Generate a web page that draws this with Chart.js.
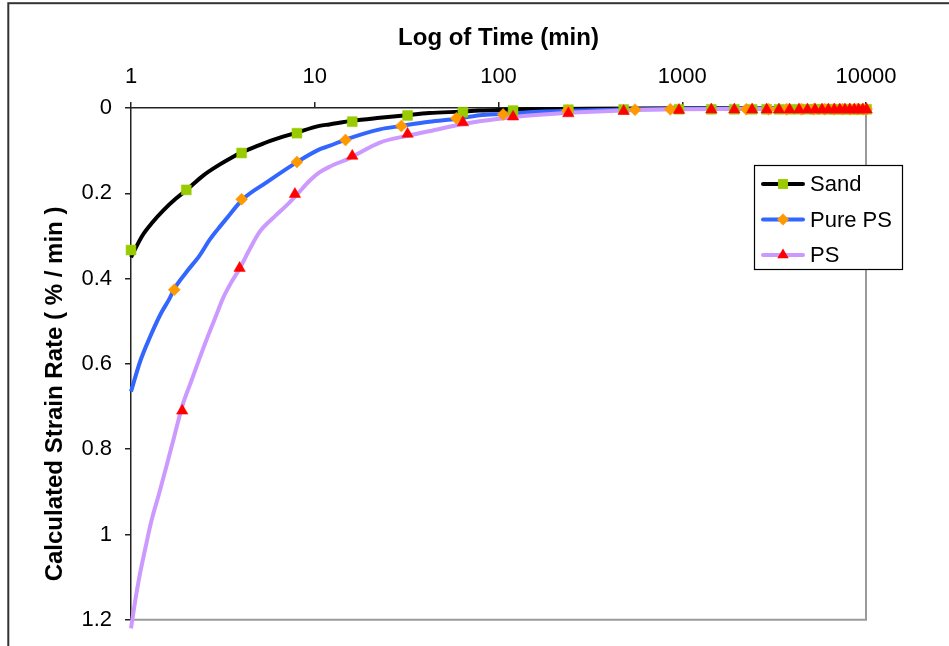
<!DOCTYPE html>
<html>
<head>
<meta charset="utf-8">
<script src="https://cdn.jsdelivr.net/npm/chart.js@4/dist/chart.umd.min.js"></script>
<style>
  html, body { margin: 0; padding: 0; background: #ffffff; }
  #wrap { width: 949px; height: 646px; position: relative; }
  canvas { display: block; }
</style>
</head>
<body>
<div id="wrap"><canvas id="c" width="949" height="646"></canvas></div>
<script>
// ---------- Data ----------
const xTicks = [1, 10, 100, 1000, 10000];
const yTicks = [0, 0.2, 0.4, 0.6, 0.8, 1, 1.2];
const yTickLabels = ['0', '0.2', '0.4', '0.6', '0.8', '1', '1.2'];

const seriesNames = ['Sand', 'Pure PS', 'PS'];
const xTitle = 'Log of Time (min)';
const yTitle = 'Calculated Strain Rate ( % / min )';

// Continuous curves
const sandCurveTime = [1, 1.15, 1.31, 1.5, 1.75, 2, 2.46, 3, 3.5, 4.06, 5, 5.67, 7.93, 10.6, 12, 16, 22.6, 31.5, 42, 61.6, 79, 101, 150, 300, 1000, 10080];
const sandCurveRate = [0.35, 0.30, 0.268, 0.24, 0.213, 0.193, 0.159, 0.134, 0.117, 0.103, 0.087, 0.0775, 0.058, 0.042, 0.0385, 0.030, 0.023, 0.017, 0.012, 0.0085, 0.006, 0.0045, 0.003, 0.0015, 0.0005, 0];

const pureCurveTime = [1, 1.12, 1.26, 1.45, 1.62, 1.72, 2.0, 2.36, 2.67, 2.97, 3.3, 4.06, 5.44, 7.93, 10.6, 12, 14.8, 22.6, 29.5, 42, 60, 79, 106, 147, 275, 550, 1000, 3000, 10080];
const pureCurveRate = [0.665, 0.595, 0.54, 0.483, 0.447, 0.424, 0.385, 0.346, 0.31, 0.284, 0.26, 0.214, 0.175, 0.128, 0.097, 0.089, 0.0736, 0.050, 0.042, 0.032, 0.025, 0.017, 0.014, 0.010, 0.006, 0.0035, 0.002, 0.001, 0.0005];

const psCurveTime = [1, 1.05, 1.11, 1.2, 1.29, 1.42, 1.55, 1.72, 1.91, 2.13, 2.36, 2.62, 2.91, 3.16, 3.5, 3.9, 4.4, 5.0, 6.0, 7.0, 8.0, 9.4, 10.6, 12, 15.4, 22.6, 32, 42.4, 60, 79, 101, 147, 275, 520, 1000, 2000, 5000, 10080];
const psCurveRate = [1.22, 1.16, 1.10, 1.03, 0.969, 0.905, 0.844, 0.77, 0.696, 0.64, 0.587, 0.535, 0.486, 0.447, 0.41, 0.377, 0.333, 0.291, 0.256, 0.229, 0.203, 0.17, 0.151, 0.138, 0.118, 0.081, 0.065, 0.054, 0.040, 0.031, 0.025, 0.0175, 0.0098, 0.005, 0.003, 0.002, 0.001, 0.0005];

// Measured markers
const sandMarkTime = [1, 2, 4, 8, 16, 32, 64, 120, 240, 480, 960, 1440, 1920, 2400, 2880, 3360, 3840, 4320, 4800, 5280, 5760, 6240, 6720, 7200, 7680, 8160, 8640, 9120, 9600, 10080];
const sandMarkRate = [0.333, 0.192, 0.1055, 0.059, 0.032, 0.0175, 0.0098, 0.006, 0.004, 0.0035, 0.003, 0.003, 0.003, 0.003, 0.003, 0.003, 0.003, 0.003, 0.003, 0.003, 0.003, 0.003, 0.003, 0.003, 0.003, 0.003, 0.003, 0.003, 0.003, 0.003];

const pureMarkTime = [1.72, 4, 8, 14.7, 29.6, 59, 106, 237, 553, 861, 2230, 2950, 3700, 4450, 5200, 5950, 6700, 7450, 8200, 8950, 9700, 10080];
const pureMarkRate = [0.426, 0.214, 0.1265, 0.075, 0.042, 0.024, 0.015, 0.006, 0.004, 0.003, 0.003, 0.003, 0.003, 0.003, 0.003, 0.003, 0.003, 0.003, 0.003, 0.003, 0.003, 0.003];

const psMarkTime = [1.9, 3.9, 7.8, 16, 32, 64, 120, 240, 480, 960, 1440, 1920, 2400, 2880, 3360, 3840, 4320, 4800, 5280, 5760, 6240, 6720, 7200, 7680, 8160, 8640, 9120, 9600, 10080];
const psMarkRate = [0.71, 0.3755, 0.202, 0.1125, 0.061, 0.034, 0.0205, 0.0128, 0.0075, 0.005, 0.004, 0.004, 0.004, 0.004, 0.004, 0.004, 0.004, 0.004, 0.004, 0.004, 0.004, 0.004, 0.004, 0.004, 0.004, 0.004, 0.004, 0.004, 0.004];

// ---------- Styles ----------
const FONT = '"Liberation Sans", Arial, Helvetica, sans-serif';
const lineColors = ['#000000', '#3366FF', '#CC99FF'];
const markColors = ['#99CC00', '#FF9900', '#FF0000'];
const markStyles = ['rect', 'rectRot', 'triangle'];
const markRadius = [7, 6, 6.6];

function pts(xs, ys) { return xs.map((x, i) => ({ x: x, y: ys[i] })); }

const curveData = [pts(sandCurveTime, sandCurveRate), pts(pureCurveTime, pureCurveRate), pts(psCurveTime, psCurveRate)];
const markData = [pts(sandMarkTime, sandMarkRate), pts(pureMarkTime, pureMarkRate), pts(psMarkTime, psMarkRate)];

const datasets = [];
for (let i = 0; i < 3; i++) {
  datasets.push({
    label: seriesNames[i],
    data: curveData[i],
    showLine: true,
    borderColor: lineColors[i],
    backgroundColor: lineColors[i],
    borderWidth: 4,
    pointRadius: 0,
    cubicInterpolationMode: 'monotone',
    fill: false,
    clip: false,
    order: 5 - i
  });
}
for (let i = 0; i < 3; i++) {
  datasets.push({
    label: seriesNames[i] + ' markers',
    data: markData[i],
    showLine: false,
    pointStyle: markStyles[i],
    pointRadius: markRadius[i],
    pointBackgroundColor: markColors[i],
    pointBorderColor: markColors[i],
    pointBorderWidth: 0.5,
    clip: false,
    order: 2 - i
  });
}

// Plot-area right/bottom frame (gray), outer border and y-axis title
const framePlugin = {
  id: 'frame',
  beforeDraw(chart) {
    const ctx = chart.ctx;
    ctx.save();
    ctx.fillStyle = '#ffffff';
    ctx.fillRect(0, 0, chart.width, chart.height);
    ctx.strokeStyle = '#333333';
    ctx.lineWidth = 2;
    ctx.strokeRect(8.3, 3.2, 2000, 2000);
    ctx.restore();
  },
  beforeDatasetsDraw(chart) {
    const { ctx, chartArea: a } = chart;
    ctx.save();
    ctx.strokeStyle = '#9a9a9a';
    ctx.lineWidth = 2;
    ctx.beginPath();
    ctx.moveTo(a.right, a.top);
    ctx.lineTo(a.right, a.bottom);
    ctx.lineTo(a.left, a.bottom);
    ctx.stroke();
    ctx.restore();
  },
  afterDraw(chart) {
    const ctx = chart.ctx;
    ctx.save();
    ctx.translate(55, 394);
    ctx.rotate(-Math.PI / 2);
    ctx.fillStyle = '#000000';
    ctx.font = 'bold 24px ' + FONT;
    ctx.textAlign = 'center';
    ctx.textBaseline = 'middle';
    ctx.fillText(yTitle, 0, 0);
    ctx.restore();
  }
};

function drawMarker(ctx, style, x, y, r, color) {
  ctx.fillStyle = color;
  ctx.beginPath();
  if (style === 'rect') {
    const s = r * Math.SQRT1_2;
    ctx.rect(x - s, y - s, 2 * s, 2 * s);
  } else if (style === 'rectRot') {
    ctx.moveTo(x, y - r); ctx.lineTo(x + r, y); ctx.lineTo(x, y + r); ctx.lineTo(x - r, y);
    ctx.closePath();
  } else {
    const a = Math.PI * 2 / 3;
    ctx.moveTo(x, y - r);
    ctx.lineTo(x + Math.sin(a) * r, y - Math.cos(a) * r);
    ctx.lineTo(x + Math.sin(2 * a) * r, y - Math.cos(2 * a) * r);
    ctx.closePath();
  }
  ctx.fill();
}

const legendPlugin = {
  id: 'boxLegend',
  afterDraw(chart) {
    const ctx = chart.ctx;
    const bx = 754.5, by = 165.5, bw = 148, bh = 104;
    ctx.save();
    ctx.fillStyle = '#ffffff';
    ctx.fillRect(bx, by, bw, bh);
    ctx.strokeStyle = '#000000';
    ctx.lineWidth = 1.2;
    ctx.strokeRect(bx, by, bw, bh);
    const rows = [184, 219.5, 255];
    for (let i = 0; i < 3; i++) {
      const y = rows[i];
      ctx.strokeStyle = lineColors[i];
      ctx.lineWidth = 4;
      ctx.lineCap = 'round';
      ctx.beginPath();
      ctx.moveTo(763, y);
      ctx.lineTo(803, y);
      ctx.stroke();
      drawMarker(ctx, markStyles[i], 783, y, markRadius[i], markColors[i]);
      ctx.fillStyle = '#000000';
      ctx.font = '22px ' + FONT;
      ctx.textAlign = 'left';
      ctx.textBaseline = 'middle';
      ctx.fillText(seriesNames[i], 810, y + 1);
    }
    ctx.restore();
  }
};

new Chart(document.getElementById('c'), {
  type: 'scatter',
  data: { datasets: datasets },
  plugins: [framePlugin, legendPlugin],
  options: {
    responsive: false,
    animation: false,
    events: [],
    layout: { padding: { left: 0, top: 0, right: 83, bottom: 24 } },
    plugins: { legend: { display: false }, tooltip: { enabled: false }, title: { display: false } },
    scales: {
      x: {
        type: 'logarithmic',
        position: 'top',
        min: 1,
        max: 10000,
        afterBuildTicks: (s) => { s.ticks = xTicks.map(v => ({ value: v })); },
        afterFit: (s) => { s.height = 108; },
        ticks: {
          callback: (v) => String(v),
          font: { size: 22, family: FONT },
          color: '#000000',
          padding: 12,
          maxRotation: 0,
          autoSkip: false
        },
        grid: { drawOnChartArea: false, drawTicks: true, tickLength: 6, color: '#222222', lineWidth: 1.5 },
        border: { display: true, color: '#222222', width: 1.5 },
        title: {
          display: true,
          text: xTitle,
          font: { size: 24, weight: 'bold', family: FONT },
          color: '#000000',
          padding: { top: 24, bottom: 0 }
        }
      },
      y: {
        type: 'linear',
        reverse: true,
        min: 0,
        max: 1.2,
        afterBuildTicks: (s) => { s.ticks = yTicks.map(v => ({ value: v })); },
        afterFit: (s) => { s.width = 131; },
        ticks: {
          callback: (v, i) => yTickLabels[i],
          font: { size: 22, family: FONT },
          color: '#000000',
          padding: 13,
          autoSkip: false
        },
        grid: { drawOnChartArea: false, drawTicks: true, tickLength: 6, color: '#222222', lineWidth: 1.5 },
        border: { display: true, color: '#222222', width: 1.5 },
        title: { display: false }
      }
    }
  }
});
</script>
</body>
</html>
